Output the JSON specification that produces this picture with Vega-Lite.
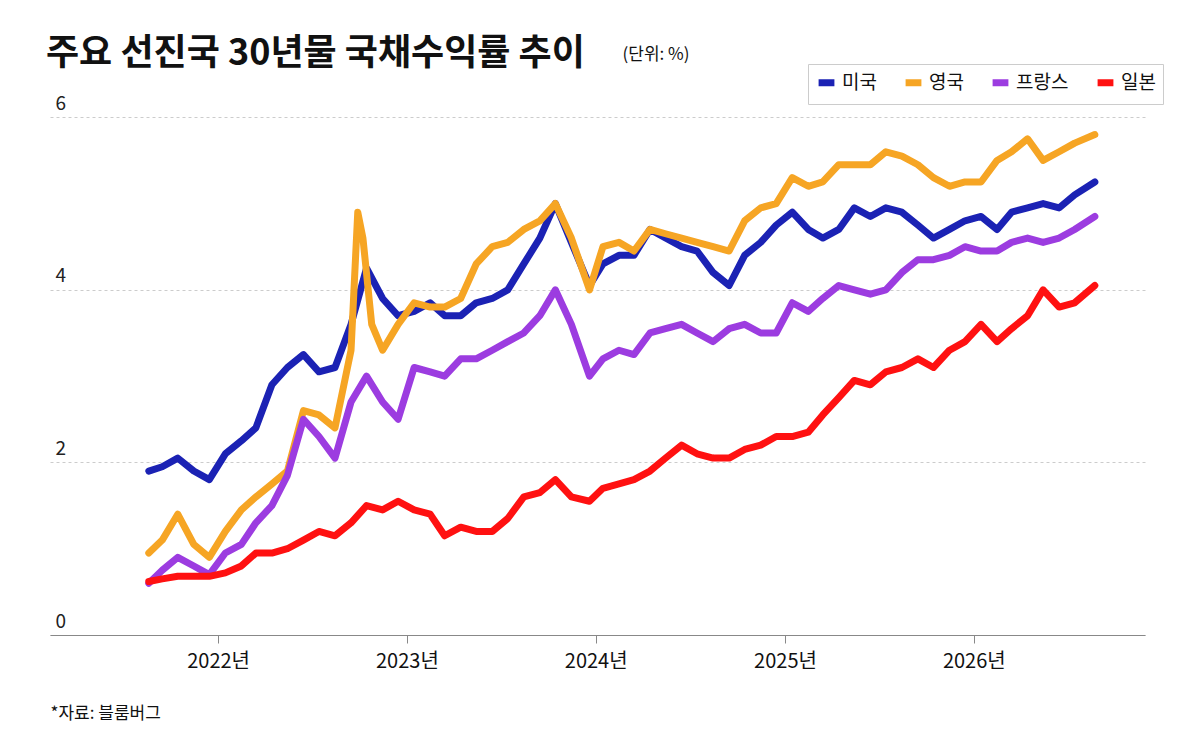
{
  "$schema": "https://vega.github.io/schema/vega-lite/v6.json",
  "autosize": "none",
  "width": 1095,
  "height": 535,
  "padding": {"left": 50, "top": 100, "right": 55, "bottom": 115},
  "background": "white",
  "config": {"font": "Noto Sans CJK KR", "view": {"stroke": null}},
  "title": {
    "text": "주요 선진국 30년물 국채수익률 추이",
    "anchor": "start", "frame": "group", "offset": 2, "dx": -4, "dy": 30,
    "fontSize": 36, "fontWeight": "bold", "color": "#111"
  },
  "data": {"values": [
    {"d":"2021-08-20","us":1.9,"uk":0.95,"fr":0.6,"jp":0.62},
    {"d":"2021-09-15","us":1.95,"uk":1.1,"fr":0.75,"jp":0.65},
    {"d":"2021-10-15","us":2.05,"uk":1.4,"fr":0.9,"jp":0.68},
    {"d":"2021-11-15","us":1.9,"uk":1.05,"fr":0.8,"jp":0.68},
    {"d":"2021-12-15","us":1.8,"uk":0.9,"fr":0.7,"jp":0.68},
    {"d":"2022-01-15","us":2.1,"uk":1.2,"fr":0.95,"jp":0.72},
    {"d":"2022-02-15","us":2.25,"uk":1.45,"fr":1.05,"jp":0.8},
    {"d":"2022-03-15","us":2.4,"uk":1.6,"fr":1.3,"jp":0.95},
    {"d":"2022-04-15","us":2.9,"uk":1.75,"fr":1.5,"jp":0.95},
    {"d":"2022-05-15","us":3.1,"uk":1.9,"fr":1.85,"jp":1.0},
    {"d":"2022-06-15","us":3.25,"uk":2.6,"fr":2.5,"jp":1.1},
    {"d":"2022-07-15","us":3.05,"uk":2.55,"fr":2.3,"jp":1.2},
    {"d":"2022-08-15","us":3.1,"uk":2.4,"fr":2.05,"jp":1.15},
    {"d":"2022-09-15","us":3.6,"uk":3.3,"fr":2.7,"jp":1.3},
    {"d":"2022-09-28","uk":4.9},
    {"d":"2022-10-08","uk":4.6},
    {"d":"2022-10-15","us":4.25,"fr":3.0,"jp":1.5},
    {"d":"2022-10-25","uk":3.6},
    {"d":"2022-11-15","us":3.9,"uk":3.3,"fr":2.7,"jp":1.45},
    {"d":"2022-12-15","us":3.7,"uk":3.6,"fr":2.5,"jp":1.55},
    {"d":"2023-01-15","us":3.75,"uk":3.85,"fr":3.1,"jp":1.45},
    {"d":"2023-02-15","us":3.85,"uk":3.8,"fr":3.05,"jp":1.4},
    {"d":"2023-03-15","us":3.7,"uk":3.8,"fr":3.0,"jp":1.15},
    {"d":"2023-04-15","us":3.7,"uk":3.9,"fr":3.2,"jp":1.25},
    {"d":"2023-05-15","us":3.85,"uk":4.3,"fr":3.2,"jp":1.2},
    {"d":"2023-06-15","us":3.9,"uk":4.5,"fr":3.3,"jp":1.2},
    {"d":"2023-07-15","us":4.0,"uk":4.55,"fr":3.4,"jp":1.35},
    {"d":"2023-08-15","us":4.3,"uk":4.7,"fr":3.5,"jp":1.6},
    {"d":"2023-09-15","us":4.6,"uk":4.8,"fr":3.7,"jp":1.65},
    {"d":"2023-10-15","us":5.0,"uk":5.0,"fr":4.0,"jp":1.8},
    {"d":"2023-11-15","us":4.55,"uk":4.6,"fr":3.6,"jp":1.6},
    {"d":"2023-12-20","us":4.05,"uk":4.0,"fr":3.0,"jp":1.55},
    {"d":"2024-01-15","us":4.3,"uk":4.5,"fr":3.2,"jp":1.7},
    {"d":"2024-02-15","us":4.4,"uk":4.55,"fr":3.3,"jp":1.75},
    {"d":"2024-03-15","us":4.4,"uk":4.45,"fr":3.25,"jp":1.8},
    {"d":"2024-04-15","us":4.7,"uk":4.7,"fr":3.5,"jp":1.9},
    {"d":"2024-05-15","us":4.6,"uk":4.65,"fr":3.55,"jp":2.05},
    {"d":"2024-06-15","us":4.5,"uk":4.6,"fr":3.6,"jp":2.2},
    {"d":"2024-07-15","us":4.45,"uk":4.55,"fr":3.5,"jp":2.1},
    {"d":"2024-08-15","us":4.2,"uk":4.5,"fr":3.4,"jp":2.05},
    {"d":"2024-09-15","us":4.05,"uk":4.45,"fr":3.55,"jp":2.05},
    {"d":"2024-10-15","us":4.4,"uk":4.8,"fr":3.6,"jp":2.15},
    {"d":"2024-11-15","us":4.55,"uk":4.95,"fr":3.5,"jp":2.2},
    {"d":"2024-12-15","us":4.75,"uk":5.0,"fr":3.5,"jp":2.3},
    {"d":"2025-01-15","us":4.9,"uk":5.3,"fr":3.85,"jp":2.3},
    {"d":"2025-02-15","us":4.7,"uk":5.2,"fr":3.75,"jp":2.35},
    {"d":"2025-03-15","us":4.6,"uk":5.25,"fr":3.9,"jp":2.55},
    {"d":"2025-04-15","us":4.7,"uk":5.45,"fr":4.05,"jp":2.75},
    {"d":"2025-05-15","us":4.95,"uk":5.45,"fr":4.0,"jp":2.95},
    {"d":"2025-06-15","us":4.85,"uk":5.45,"fr":3.95,"jp":2.9},
    {"d":"2025-07-15","us":4.95,"uk":5.6,"fr":4.0,"jp":3.05},
    {"d":"2025-08-15","us":4.9,"uk":5.55,"fr":4.2,"jp":3.1},
    {"d":"2025-09-15","us":4.75,"uk":5.45,"fr":4.35,"jp":3.2},
    {"d":"2025-10-15","us":4.6,"uk":5.3,"fr":4.35,"jp":3.1},
    {"d":"2025-11-15","us":4.7,"uk":5.2,"fr":4.4,"jp":3.3},
    {"d":"2025-12-15","us":4.8,"uk":5.25,"fr":4.5,"jp":3.4},
    {"d":"2026-01-15","us":4.85,"uk":5.25,"fr":4.45,"jp":3.6},
    {"d":"2026-02-15","us":4.7,"uk":5.5,"fr":4.45,"jp":3.4},
    {"d":"2026-03-15","us":4.9,"uk":5.6,"fr":4.55,"jp":3.55},
    {"d":"2026-04-15","us":4.95,"uk":5.75,"fr":4.6,"jp":3.7},
    {"d":"2026-05-15","us":5.0,"uk":5.5,"fr":4.55,"jp":4.0},
    {"d":"2026-06-15","us":4.95,"uk":5.6,"fr":4.6,"jp":3.8},
    {"d":"2026-07-15","us":5.1,"uk":5.7,"fr":4.7,"jp":3.85},
    {"d":"2026-08-23","us":5.25,"uk":5.8,"fr":4.85,"jp":4.05}
  ]},
  "transform": [
    {"fold": ["us", "uk", "fr", "jp"], "as": ["k", "v"]},
    {"filter": "isValid(datum.v)"},
    {"lookup": "k", "from": {"data": {"values": [
      {"k": "us", "name": "미국"}, {"k": "uk", "name": "영국"},
      {"k": "fr", "name": "프랑스"}, {"k": "jp", "name": "일본"}
    ]}, "key": "k", "fields": ["name"]}}
  ],
  "mark": {"type": "line", "strokeWidth": 7, "strokeJoin": "round", "strokeCap": "round"},
  "encoding": {
    "x": {
      "field": "d", "type": "temporal",
      "scale": {"domain": ["2021-02-10", "2026-11-28"]},
      "axis": {
        "tickCount": "year", "grid": false, "domainColor": "#888", "tickColor": "#888",
        "tickSize": 8, "labelFontSize": 20, "labelColor": "#111", "labelPadding": 8,
        "labelExpr": "timeFormat(datum.value, '%Y') + '년'",
        "title": "*자료: 블룸버그", "titleAnchor": "start", "titleFontSize": 17,
        "titleFontWeight": "normal", "titleColor": "#111", "titleX": 0, "titleY": 70, "titleAlign": "left"
      }
    },
    "y": {
      "field": "v", "type": "quantitative",
      "scale": {"domain": [0, 6.2], "nice": false},
      "axis": {
        "values": [0, 2, 4, 6], "domain": false, "ticks": false, "tickSize": 0,
        "labelAlign": "left", "labelBaseline": "bottom", "labelPadding": -5, "labelOffset": -4,
        "labelFontSize": 19, "labelColor": "#222",
        "gridDash": [3, 3], "gridColor": "#ccc",
        "title": "(단위: %)", "titleAngle": 0, "titleAlign": "left", "titleFontSize": 17,
        "titleFontWeight": "normal", "titleColor": "#111", "titleX": 572, "titleY": -37
      }
    },
    "color": {
      "field": "name", "type": "nominal",
      "scale": {"domain": ["미국", "영국", "프랑스", "일본"], "range": ["#1b22b4", "#f6a524", "#9c3ce0", "#ff1111"]},
      "legend": {
        "title": null, "orient": "none", "direction": "horizontal", "legendX": 758, "legendY": -36,
        "symbolType": "stroke", "symbolStrokeWidth": 7, "symbolSize": 250, "labelFontSize": 19,
        "labelColor": "#111", "columnPadding": 14, "strokeColor": "#ccc", "padding": 7, "fillColor": "white"
      }
    },
    "order": {"field": "k", "sort": "descending"}
  }
}
